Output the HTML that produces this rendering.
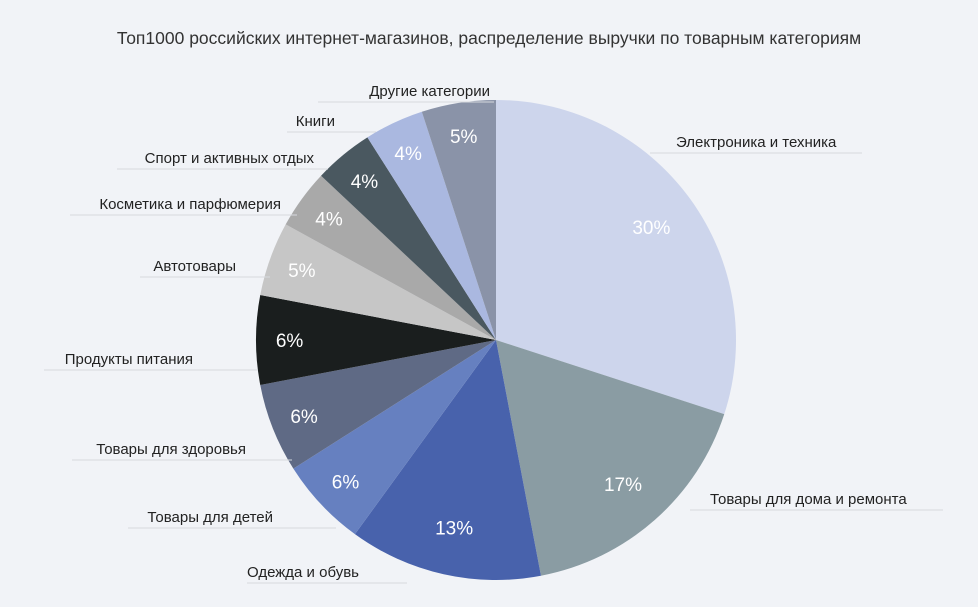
<!DOCTYPE html>
<html><head><meta charset="utf-8"><style>
body{margin:0;background:#f1f3f7;}
svg{display:block;font-family:"Liberation Sans","DejaVu Sans",sans-serif;}
</style></head><body>
<svg id="chart" width="978" height="607" viewBox="0 0 978 607">
<rect width="978" height="607" fill="#f1f3f7"/>
<text x="489" y="44" text-anchor="middle" font-size="17.5" fill="#333">Топ1000 российских интернет-магазинов, распределение выручки по товарным категориям</text>
<g id="slices"></g><g id="labels"></g>
</svg>
<script>
const categories=["Электроника и техника","Товары для дома  и ремонта","Одежда и обувь","Товары для детей","Товары для здоровья","Продукты питания","Автотовары","Косметика и парфюмерия","Спорт и активных отдых","Книги","Другие категории"];
const values=[30,17,13,6,6,6,5,4,4,4,5];
const colors=["#cdd5ec","#8a9ca3","#4862ac","#6680c0","#5f6a85","#1a1e1e","#c6c6c6","#a9a9a9","#4a5860","#aab8e0","#8a93a8"];
// label anchor: [x, baselineY, lineX1, lineX2, anchor]
const labelPos=[[676,147,650,862,"start"],[710,504,690,943,"start"],[247,577,247,407,"start"],[273,522,128,336,"end"],[246,454,72,292,"end"],[193,364,44,258,"end"],[236,271,140,270,"end"],[281,209,70,297,"end"],[314,163,117,328,"end"],[335,126,287,376,"end"],[490,96,318,494,"end"]];
const cx=496,cy=340,r=240;
const NS="http://www.w3.org/2000/svg";
const sg=document.getElementById("slices"),lg=document.getElementById("labels");
const total=values.reduce((a,b)=>a+b,0);
function pt(a,rad){return [cx+rad*Math.sin(a),cy-rad*Math.cos(a)];}
let a0=0;
values.forEach((v,i)=>{
  const a1=a0+v/total*2*Math.PI;
  const p0=pt(a0,r),p1=pt(a1,r);
  const large=(a1-a0)>Math.PI?1:0;
  const p=document.createElementNS(NS,"path");
  p.setAttribute("d",`M${cx},${cy}L${p0[0]},${p0[1]}A${r},${r} 0 ${large} 1 ${p1[0]},${p1[1]}Z`);
  p.setAttribute("fill",colors[i]);
  
  
  sg.appendChild(p);
  const m=(a0+a1)/2,lp=pt(m,r*(v>=10?0.8:0.86));
  const t=document.createElementNS(NS,"text");
  t.setAttribute("x",lp[0]);t.setAttribute("y",lp[1]+7);
  t.setAttribute("text-anchor","middle");t.setAttribute("font-size","19");
  t.setAttribute("fill","#fff");
  t.textContent=Math.round(v)+"%";
  
  
  lg.appendChild(t);
  const L=labelPos[i];
  const ln=document.createElementNS(NS,"line");
  ln.setAttribute("x1",L[2]);ln.setAttribute("x2",L[3]);
  ln.setAttribute("y1",L[1]+6);ln.setAttribute("y2",L[1]+6);
  ln.setAttribute("stroke","#d6d9de");ln.setAttribute("stroke-width","1");
  
  
  lg.appendChild(ln);
  const ct=document.createElementNS(NS,"text");
  ct.setAttribute("x",L[0]);ct.setAttribute("y",L[1]);
  ct.setAttribute("text-anchor",L[4]);ct.setAttribute("font-size","15");
  ct.setAttribute("fill","#222");
  ct.textContent=categories[i];
  
  
  lg.appendChild(ct);
  a0=a1;
});
</script>
</body></html>
